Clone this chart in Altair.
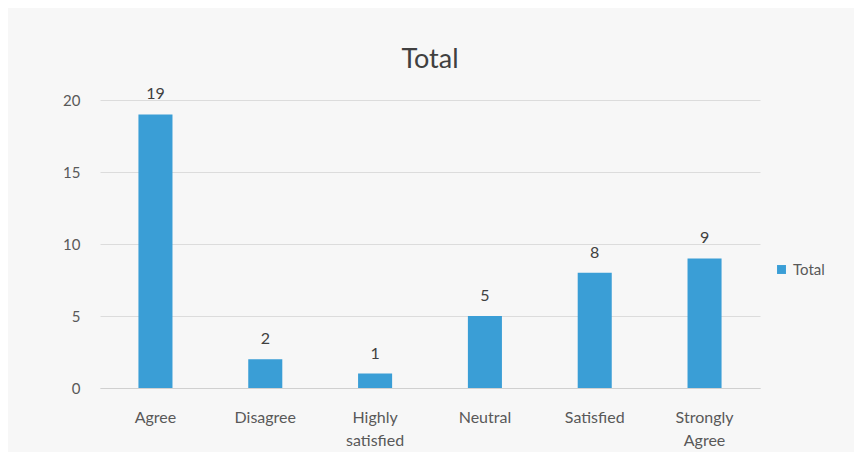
import altair as alt
import pandas as pd

categories = ["Agree", "Disagree", "Highly satisfied", "Neutral", "Satisfied", "Strongly Agree"]
values = [19, 2, 1, 5, 8, 9]
series = ["Total"] * len(categories)

df = pd.DataFrame({"category": categories, "value": values, "series": series})

FONT = "Lato"
GREY = "#595959"

base = alt.Chart(df).encode(
    x=alt.X("category:N", sort=categories, title=None,
            scale=alt.Scale(paddingInner=0.69, paddingOuter=0.35),
            axis=alt.Axis(labelAngle=0, labelExpr="split(datum.label, ' ')",
                          labelFontSize=16, labelColor=GREY, labelFont=FONT,
                          labelPadding=21, ticks=False, domainColor="#d0d0d0",
                          labelLineHeight=23)),
    y=alt.Y("value:Q", title=None,
            scale=alt.Scale(domain=[0, 20]),
            axis=alt.Axis(values=[0, 5, 10, 15, 20], labelFontSize=15, labelColor=GREY,
                          labelFont=FONT, domain=False, ticks=False, labelPadding=20,
                          gridColor="#dcdcdc")),
)

bars = base.mark_bar(color="#3a9ed6").encode(
    color=alt.Color("series:N", scale=alt.Scale(range=["#3a9ed6"]),
                    legend=alt.Legend(title=None, orient="none", legendX=674, legendY=162,
                                      symbolType="square", symbolSize=80,
                                      labelFontSize=15, labelColor=GREY, labelFont=FONT))
)

text = base.mark_text(dy=-20, fontSize=16, color="#404040", font=FONT).encode(
    text="value:Q"
)

chart = (bars + text).properties(
    width=660, height=288,
    title=alt.TitleParams("Total", fontSize=27, font=FONT, fontWeight="normal",
                          color="#404040", offset=12),
    autosize=alt.AutoSizeParams(type="none"),
    padding={"left": 92, "top": 92, "right": 94, "bottom": 64},
    background="#f7f7f7",
).configure_view(stroke=None)

chart.save("out.html", embed_options={"renderer": "svg", "actions": False})
